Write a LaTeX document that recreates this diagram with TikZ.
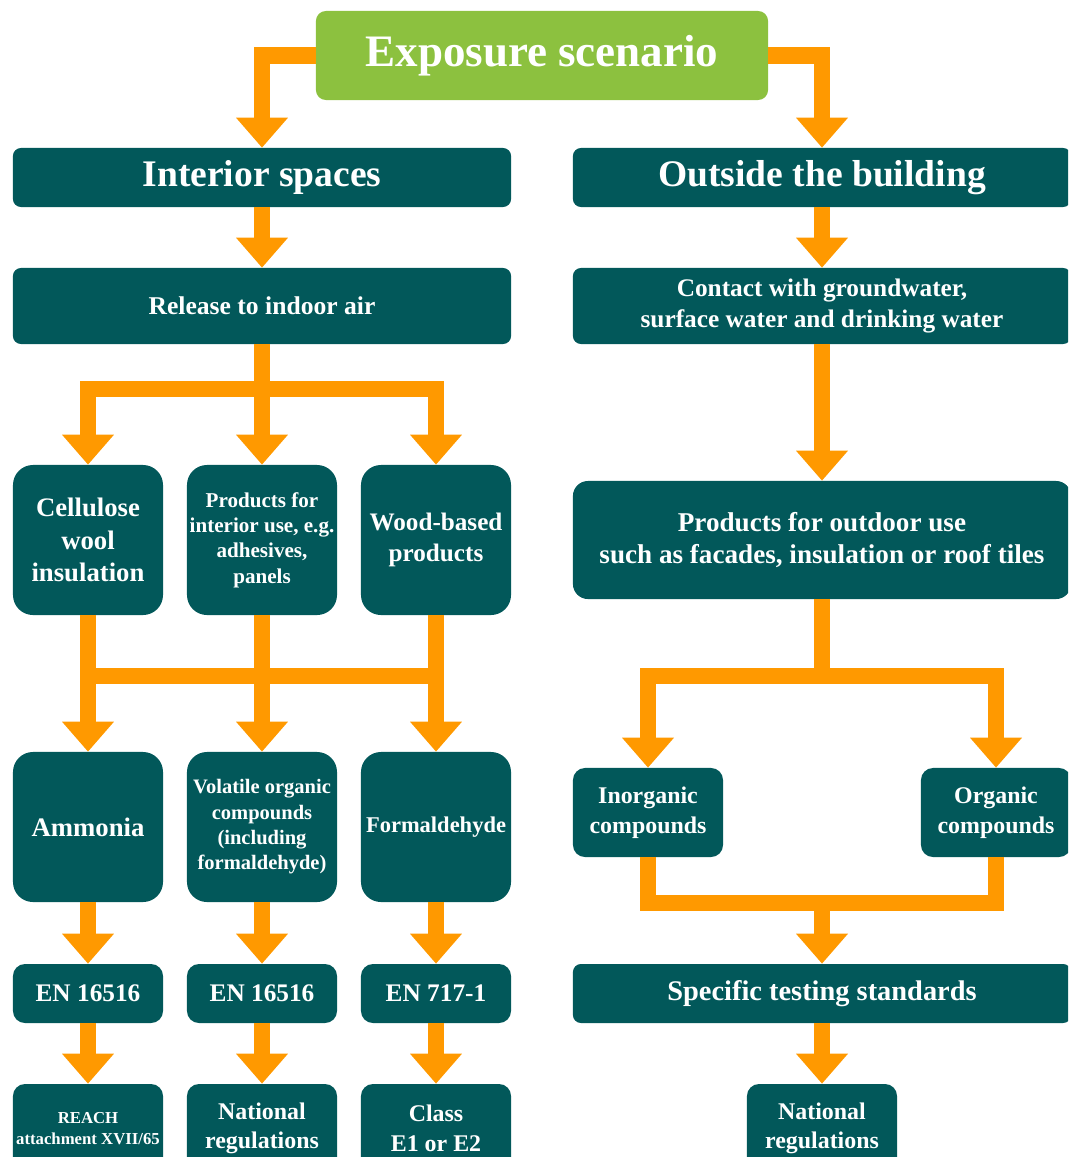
\documentclass[tikz,border=0pt]{standalone}
\usepackage{fontspec}
\setmainfont{Liberation Serif}
\usetikzlibrary{arrows.meta}
\usetikzlibrary{calc}
\definecolor{boxteal}{HTML}{02585A}
\definecolor{flowor}{HTML}{FF9900}
\definecolor{headgreen}{HTML}{8CC13F}
\tikzset{
fs/.style 2 args={font=\bfseries\fontsize{#1}{#2}\selectfont},
box/.style={fill=boxteal, text=white, align=center, inner sep=1pt},
widebox/.style={box, minimum width=12.45cm, rounded corners=0.2cm},
squarebox/.style={box, minimum width=3.75cm, minimum height=3.75cm, rounded corners=0.5cm},
smallbox/.style={box, minimum width=3.75cm, rounded corners=0.3cm},
flowline/.style={draw=flowor, line width=0.4cm},
flow/.style={flowline, -{Triangle[width=1.25cm, length=0.75cm]}}}

\begin{document}
\begin{tikzpicture}[x=0.025cm, y=-0.025cm]
    \useasboundingbox (0,0) rectangle (1068,1157);
    \clip (0,0) rectangle (1068,1157);

                \node[box, fill=headgreen, minimum width=11.3cm, minimum height=2.225cm, rounded corners=0.25cm, fs={32}{38}] (expo) at (542,55.5) {Exposure scenario};

                \node[widebox, minimum height=1.475cm, fs={26.7}{32}] (interior) at (262,177.5) {Interior spaces};
                \node[widebox, minimum height=1.475cm, fs={26.7}{32}] (outside) at (822,177.5) {Outside the building};
                \node[widebox, minimum height=1.9cm, fs={18.2}{22}] (release) at (262,306) {Release to indoor air};
                \node[widebox, minimum height=1.9cm, fs={18}{21.5}] (contact) at (822,306) {Contact with groundwater,\\surface water and drinking water};

                \node[squarebox, fs={19}{23}] (cellulose) at (88,540) {Cellulose\\wool\\insulation};
                \node[squarebox, fs={15}{18}] (prodint) at (262,540) {Products for\\interior use, e.g.\\adhesives,\\panels};
                \node[squarebox, fs={17.9}{22}] (wood) at (436,540) {Wood-based\\products};
                \node[widebox, minimum height=2.95cm, rounded corners=0.375cm, fs={19.3}{22.8}] (outdoor) at (822,540) {Products for outdoor use\\such as facades, insulation or roof tiles};

                \node[squarebox, fs={19}{23}] (ammonia) at (88,827) {Ammonia};
                \node[squarebox, fs={14.6}{18}] (voc) at (262,827) {Volatile organic\\compounds\\(including\\formaldehyde)};
                \node[squarebox, fs={16}{20}] (formal) at (436,827) {Formaldehyde};
                \node[smallbox, minimum height=2.225cm, fs={17}{21}] (inorganic) at (648,812.5) {Inorganic\\compounds};
                \node[smallbox, minimum height=2.225cm, fs={17}{21}] (organic) at (996,812.5) {Organic\\compounds};

                \node[smallbox, minimum height=1.475cm, fs={18}{22}] (en1) at (88,993.5) {EN 16516};
                \node[smallbox, minimum height=1.475cm, fs={18}{22}] (en2) at (262,993.5) {EN 16516};
                \node[smallbox, minimum height=1.475cm, fs={18}{22}] (en3) at (436,993.5) {EN 717-1};
                \node[widebox, minimum height=1.475cm, fs={20.2}{24}] (specific) at (822,993.5) {Specific testing standards};

                \node[smallbox, minimum height=2.225cm, fs={11.9}{15}] (reach) at (88,1128.5) {REACH\\attachment XVII/65};
                \node[smallbox, minimum height=2.225cm, fs={17}{21}] (natreg1) at (262,1128.5) {National\\regulations};
                \node[smallbox, minimum height=2.225cm, fs={17}{21}] (classe) at (436,1128.5) {Class\\E1 or E2};
                \node[smallbox, minimum height=2.225cm, fs={17}{21}] (natreg2) at (822,1128.5) {National\\regulations};

                % top split
                \draw[flow] (expo.west) -| (interior.north);
                \draw[flow] (expo.east) -| (outside.north);
                \draw[flow] (interior.south) -- (release.north);
                \draw[flow] (outside.south) -- (contact.north);

                % interior branch
                \draw[flow] (release.south) -- ++(0,45) -| (cellulose.north);
                \draw[flow] (release.south) -- (prodint.north);
                \draw[flow] (release.south) -- ++(0,45) -| (wood.north);
                \draw[flowline] ($(cellulose.south)+(0,61)$) -- ($(wood.south)+(0,61)$);
                \draw[flow] (cellulose.south) -- (ammonia.north);
                \draw[flow] (prodint.south) -- (voc.north);
                \draw[flow] (wood.south) -- (formal.north);
                \draw[flow] (ammonia.south) -- (en1.north);
                \draw[flow] (voc.south) -- (en2.north);
                \draw[flow] (formal.south) -- (en3.north);
                \draw[flow] (en1.south) -- (reach.north);
                \draw[flow] (en2.south) -- (natreg1.north);
                \draw[flow] (en3.south) -- (classe.north);

                % outside branch
                \draw[flow] (contact.south) -- (outdoor.north);
                \draw[flow] (outdoor.south) -- ++(0,77) -| (inorganic.north);
                \draw[flow] (outdoor.south) -- ++(0,77) -| (organic.north);
                \coordinate (merge) at ($(inorganic.south)+(0,46)$);
                \draw[flowline] (inorganic.south) -- (merge) -| (organic.south);
                \draw[flow] (merge -| specific.north) -- (specific.north);
                \draw[flow] (specific.south) -- (natreg2.north);

\end{tikzpicture}
\end{document}
